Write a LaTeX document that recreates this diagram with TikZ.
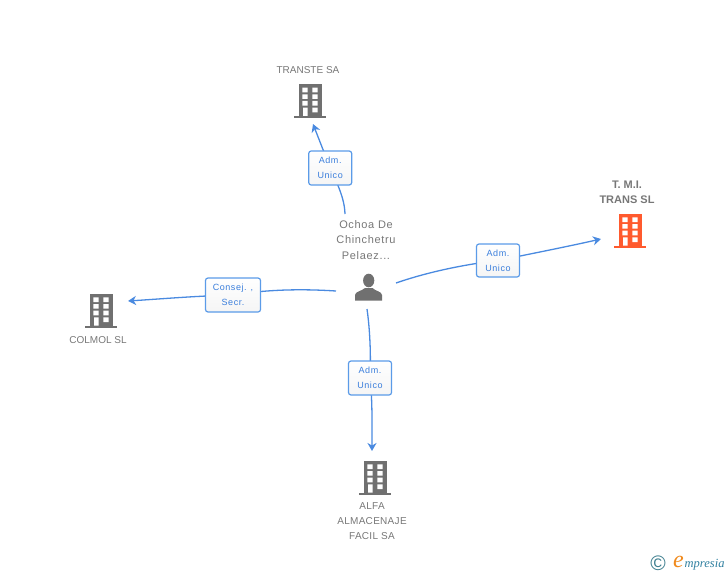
\documentclass[tikz,border=0pt]{standalone}
\usepackage{fontspec}
\setmainfont{Liberation Sans}
\newfontfamily\spacedfont[LetterSpace=6]{Liberation Sans}
\newfontfamily\tightfont[LetterSpace=3]{Liberation Sans}
\newfontfamily\logofont{Liberation Serif}
\usetikzlibrary{arrows.meta,backgrounds}
\definecolor{linkblue}{HTML}{4A8AE0}
\definecolor{boxblue}{HTML}{5B9BE8}
\definecolor{labelblue}{HTML}{3A7EDC}
\definecolor{namegray}{HTML}{777777}
\definecolor{icongray}{HTML}{707070}
\definecolor{iconorange}{HTML}{FF5A2E}
\definecolor{logoteal}{HTML}{3F7F8F}
\definecolor{logoorange}{HTML}{F08A1D}
\definecolor{logoblue}{HTML}{2F7F9F}
\tikzset{
  edgebox/.style={draw=boxblue,line width=1.2pt,rounded corners=2.5pt,top color=white,bottom color=white!96!black,
    inner sep=0pt,font=\fontsize{9}{15}\spacedfont,text=labelblue,align=center},
  entity/.style={inner sep=0pt,font=\fontsize{10}{15}\selectfont,text=namegray,align=center},
  link/.style={draw=linkblue,line width=1.3pt},
  arrowlink/.style={link,-{Stealth[length=8pt,width=9pt,inset=2.5pt]}},
  pics/building/.style={code={
    \fill[#1] (-11,0) rectangle (11.5,31.5);
    \fill[#1] (-16,31.5) rectangle (16,33.5);
    \fill[white] (-7.7,3.4) rectangle (-2.3,8) (2.3,3.4) rectangle (7.7,8)
      (-7.7,10) rectangle (-2.3,14.7) (2.3,10) rectangle (7.7,14.7)
      (-7.7,16.7) rectangle (-2.3,21.4) (2.3,16.7) rectangle (7.7,21.4)
      (-7,23.4) rectangle (-2.3,31.5) (2.3,23.4) rectangle (7.7,28);
  }}
}
\begin{document}
\begin{tikzpicture}[x=1pt,y=-1pt]
\useasboundingbox (0,0) rectangle (728,575);

% Buildings
\pic at (310,84.3) {building=icongray};
\pic at (630,214) {building=iconorange};
\pic at (101,294) {building=icongray};
\pic at (375,461) {building=icongray};

% Person
\node[inner sep=0pt,minimum width=27pt,minimum height=27pt] (person) at (368.5,287.5) {};
\fill[icongray] (368.7,280.5) ellipse (5.6 and 6.8);
\fill[icongray] (355,300.7) -- (355,295) .. controls (355,291.5) and (362,291) .. (365,288)
  -- (372.5,288) .. controls (375,291) and (382,291.5) .. (382,295) -- (382,300.7) -- cycle;

% Names
\node[entity] (transte) at (308,70.3) {TRANSTE SA};
\node[entity,font=\fontsize{11}{15}\bfseries] (tmi) at (627,192) {T. M.I.\\TRANS SL};
\node[entity] (colmol) at (98,340) {COLMOL SL};
\node[entity,font=\fontsize{10}{15}\tightfont] (alfa) at (372,521) {ALFA\\ALMACENAJE\\FACIL SA};
\node[entity,font=\fontsize{11}{15.5}\spacedfont] (ochoa) at (366,240) {Ochoa De\\Chinchetru\\Pelaez...};

% Edge labels
\node[edgebox,minimum width=43pt,minimum height=34pt] (e1) at (330.2,168) {Adm.\\Unico};
\node[edgebox,minimum width=43pt,minimum height=33pt] (e2) at (498,260.5) {Adm.\\Unico};
\node[edgebox,minimum width=55pt,minimum height=34pt] (e3) at (233,295) {Consej. ,\\Secr.};
\node[edgebox,minimum width=43pt,minimum height=34pt] (e4) at (370,378) {Adm.\\Unico};

% Connector ends
\coordinate (s1) at (345,214);
\coordinate (t1) at (313,124);
\coordinate (s2) at (396,283);
\coordinate (t2) at (601,239);
\coordinate (s3) at (336,291);
\coordinate (t3) at (128,301);
\coordinate (s4) at (367,309);
\coordinate (t4) at (372,451);

\begin{scope}[on background layer]
\draw[link] (s1) .. controls (344.5,204) and (343,195) .. (e1.center);
\draw[arrowlink] (e1.center) -- (t1);
\draw[link] (s2) .. controls (425,273) and (460,265) .. (e2.center);
\draw[arrowlink] (e2.center) .. controls (535,253) and (570,246) .. (t2);
\draw[link] (s3) .. controls (305,289) and (270,289) .. (e3.center);
\draw[arrowlink] (e3.center) .. controls (195,296) and (160,299) .. (t3);
\draw[link] (s4) .. controls (370,330) and (371,355) .. (e4.center);
\draw[arrowlink] (e4.center) .. controls (372.5,400) and (372,425) .. (t4);
\end{scope}

% Logo
\node[inner sep=0pt,text=logoteal,font=\fontsize{21}{21}\selectfont] (copy) at (658,563.5) {©};
\node[inner sep=0pt,text=logoorange,font=\fontsize{24}{24}\logofont\itshape] (logoe) at (678.5,562) {e};
\node[inner sep=0pt,anchor=west,text=logoblue,font=\fontsize{12.5}{13}\logofont\itshape] (logow) at (684.5,564.5) {mpresia};
\end{tikzpicture}
\end{document}
